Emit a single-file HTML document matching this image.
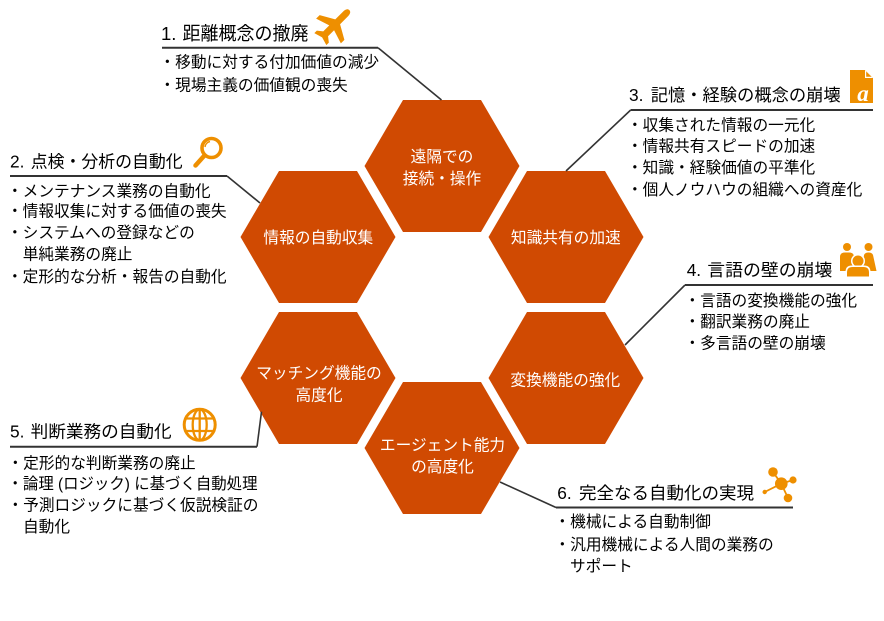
<!DOCTYPE html>
<html>
<head>
<meta charset="utf-8">
<style>
  html,body{margin:0;padding:0;background:#fff;}
  body{width:884px;height:621px;overflow:hidden;}
  svg{display:block;}
  text{font-family:"Liberation Sans","Noto Sans CJK JP",sans-serif;}
  .hex{fill:#D04A02;}
  .ht{fill:#fff;font-size:15.7px;text-anchor:middle;}
  .tt{fill:#000;font-size:17.3px;}
  .bt{fill:#000;font-size:15.7px;}
  .ul{stroke:#333;stroke-width:2;fill:none;}
  .dl{stroke:#333;stroke-width:1.6;fill:none;}
  .ic{fill:#EE8F00;}
</style>
</head>
<body>
<svg width="884" height="621" viewBox="0 0 884 621" xmlns="http://www.w3.org/2000/svg">
  <!-- Hexagons -->
  <polygon class="hex" points="364.5,166 403,100 481,100 519.5,166 481,232 403,232"/>
  <polygon class="hex" points="240.5,237 279,171 357,171 395.5,237 357,303 279,303"/>
  <polygon class="hex" points="488.5,237 527,171 605,171 643.5,237 605,303 527,303"/>
  <polygon class="hex" points="240.5,378 279,312 357,312 395.5,378 357,444 279,444"/>
  <polygon class="hex" points="488.5,378 527,312 605,312 643.5,378 605,444 527,444"/>
  <polygon class="hex" points="364.5,448 403,382 481,382 519.5,448 481,514 403,514"/>

  <!-- Hex labels -->
  <text class="ht" x="442" y="162.2">遠隔での</text>
  <text class="ht" x="442" y="183.8">接続・操作</text>
  <text class="ht" x="318.3" y="243.2">情報の自動収集</text>
  <text class="ht" x="565.8" y="243.2">知識共有の加速</text>
  <text class="ht" x="319" y="378.5">マッチング機能の</text>
  <text class="ht" x="319" y="400.5">高度化</text>
  <text class="ht" x="565.3" y="385.5">変換機能の強化</text>
  <text class="ht" x="442.5" y="450.5">エージェント能力</text>
  <text class="ht" x="442.5" y="472.2">の高度化</text>

  <!-- Connector lines -->
  <line class="ul" x1="162" y1="47.7" x2="378" y2="47.7"/>
  <line class="dl" x1="378" y1="47.7" x2="441.5" y2="100"/>

  <line class="ul" x1="630.7" y1="110" x2="873" y2="110"/>
  <line class="dl" x1="630.7" y1="110" x2="566" y2="171"/>

  <line class="ul" x1="10" y1="176" x2="227" y2="176"/>
  <line class="dl" x1="227" y1="176" x2="260" y2="203"/>

  <line class="ul" x1="685" y1="285" x2="873" y2="285"/>
  <line class="dl" x1="685" y1="285" x2="625" y2="345"/>

  <line class="ul" x1="10" y1="446.7" x2="257" y2="446.7"/>
  <line class="dl" x1="257" y1="446.7" x2="261.5" y2="411.7"/>

  <line class="ul" x1="556" y1="507.5" x2="793" y2="507.5"/>
  <line class="dl" x1="556" y1="507.5" x2="500" y2="482"/>

  <!-- Block 1 -->
  <text class="tt" y="40" style="font-size:18.5px"><tspan x="161">1.</tspan><tspan x="182.5" textLength="126" lengthAdjust="spacingAndGlyphs">距離概念の撤廃</tspan></text>
  <text class="bt" x="159.5" y="67.5">・移動に対する付加価値の減少</text>
  <text class="bt" x="159.5" y="90.5">・現場主義の価値観の喪失</text>
  <!-- airplane icon -->
  <path class="ic" transform="translate(334.5,25) rotate(45)" d="M0,-21 C2.8,-21 3.4,-18 3.4,-15 L3.4,-4.5 L17.5,3.5 L17.5,8.5 L3.4,4 L3.4,12.5 L8.5,16.5 L8.5,20 L0,17.5 L-8.5,20 L-8.5,16.5 L-3.4,12.5 L-3.4,4 L-17.5,8.5 L-17.5,3.5 L-3.4,-4.5 L-3.4,-15 C-3.4,-18 -2.8,-21 0,-21 Z"/>

  <!-- Block 2 -->
  <text class="tt" y="167.7"><tspan x="10">2.</tspan><tspan x="30.7" textLength="152" lengthAdjust="spacingAndGlyphs">点検・分析の自動化</tspan></text>
  <text class="bt" x="7" y="196.5">・メンテナンス業務の自動化</text>
  <text class="bt" x="7" y="216.7">・情報収集に対する価値の喪失</text>
  <text class="bt" x="7" y="238.2">・システムへの登録などの</text>
  <text class="bt" x="22.7" y="259.5">単純業務の廃止</text>
  <text class="bt" x="7" y="282.2">・定形的な分析・報告の自動化</text>
  <!-- magnifier icon -->
  <circle cx="211.5" cy="148" r="9.5" fill="none" stroke="#EE8F00" stroke-width="3.6"/>
  <path d="M205,147 A6.5,6.5 0 0 1 210,141.5" fill="none" stroke="#EE8F00" stroke-width="1.5"/>
  <line x1="204" y1="156" x2="195.5" y2="165.5" stroke="#EE8F00" stroke-width="4.5" stroke-linecap="round"/>

  <!-- Block 3 -->
  <text class="tt" y="101"><tspan x="629">3.</tspan><tspan x="650.7" textLength="190" lengthAdjust="spacingAndGlyphs">記憶・経験の概念の崩壊</tspan></text>
  <text class="bt" x="627" y="130.5">・収集された情報の一元化</text>
  <text class="bt" x="627" y="151.5">・情報共有スピードの加速</text>
  <text class="bt" x="627" y="172.8">・知識・経験価値の平準化</text>
  <text class="bt" x="627" y="194.8">・個人ノウハウの組織への資産化</text>
  <!-- document icon -->
  <path class="ic" d="M850,70 L865,70 L873,78 L873,103 L850,103 Z"/>
  <path d="M865,70 L865,78 L873,78 Z" fill="#fff"/>
  <path d="M866.2,71.5 L866.2,76.8 L871.5,76.8 Z" fill="#EE8F00"/>
  <text x="863" y="101" style="font-family:'Liberation Serif',serif;font-style:italic;font-weight:bold;font-size:23px;fill:#fff;text-anchor:middle;">a</text>

  <!-- Block 4 -->
  <text class="tt" y="276"><tspan x="686.7">4.</tspan><tspan x="707.3" textLength="125" lengthAdjust="spacingAndGlyphs">言語の壁の崩壊</tspan></text>
  <text class="bt" x="684.5" y="306.2">・言語の変換機能の強化</text>
  <text class="bt" x="684.5" y="327.2">・翻訳業務の廃止</text>
  <text class="bt" x="684.5" y="348.5">・多言語の壁の崩壊</text>
  <!-- people icon -->
  <g>
    <circle class="ic" cx="847" cy="247" r="4"/>
    <path class="ic" d="M840,271 L840,257 Q840,252.5 845,252.5 L849,252.5 Q854,252.5 854,257 L854,271 Z"/>
    <circle class="ic" cx="868.5" cy="247" r="4"/>
    <path class="ic" d="M862,271 L864,255 Q865,252.5 868.5,252.5 Q872,252.5 873,255 L876.5,271 Z"/>
    <circle cx="858" cy="261" r="7" fill="#fff"/>
    <circle class="ic" cx="858" cy="261" r="5.5"/>
    <path d="M845.5,277.5 L845.5,272 Q845.5,265.5 852,265.5 L864,265.5 Q870.5,265.5 870.5,272 L870.5,277.5 Z" fill="#fff"/>
    <path class="ic" d="M847,276.5 L847,272.5 Q847,267 852.5,267 L863.5,267 Q869,267 869,272.5 L869,276.5 Z"/>
  </g>

  <!-- Block 5 -->
  <text class="tt" y="437.7"><tspan x="10">5.</tspan><tspan x="30.7" textLength="141" lengthAdjust="spacingAndGlyphs">判断業務の自動化</tspan></text>
  <text class="bt" x="7.5" y="468.5">・定形的な判断業務の廃止</text>
  <text class="bt" x="7.5" y="488.8" textLength="250" lengthAdjust="spacingAndGlyphs">・論理 (ロジック) に基づく自動処理</text>
  <text class="bt" x="7.5" y="510.5">・予測ロジックに基づく仮説検証の</text>
  <text class="bt" x="23" y="532.2">自動化</text>
  <!-- globe icon -->
  <g fill="none" stroke="#EE8F00">
    <circle cx="199.7" cy="424.8" r="15.5" stroke-width="3"/>
    <ellipse cx="199.7" cy="424.8" rx="7" ry="15.5" stroke-width="2.3"/>
    <line x1="199.7" y1="409.3" x2="199.7" y2="440.3" stroke-width="2.3"/>
    <line x1="186" y1="418.5" x2="213.4" y2="418.5" stroke-width="2.3"/>
    <line x1="186" y1="431" x2="213.4" y2="431" stroke-width="2.3"/>
  </g>

  <!-- Block 6 -->
  <text class="tt" y="499"><tspan x="557.3">6.</tspan><tspan x="579" textLength="175" lengthAdjust="spacingAndGlyphs">完全なる自動化の実現</tspan></text>
  <text class="bt" x="554.5" y="527.2">・機械による自動制御</text>
  <text class="bt" x="554.5" y="550">・汎用機械による人間の業務の</text>
  <text class="bt" x="570" y="571.5">サポート</text>
  <!-- molecule icon -->
  <g stroke="#EE8F00" stroke-width="1.8">
    <line x1="781.3" y1="483.7" x2="773" y2="472"/>
    <line x1="781.3" y1="483.7" x2="793" y2="480"/>
    <line x1="781.3" y1="483.7" x2="788" y2="498"/>
    <line x1="781.3" y1="483.7" x2="764.7" y2="492"/>
  </g>
  <circle class="ic" cx="781.3" cy="483.7" r="6.3"/>
  <circle class="ic" cx="773" cy="472" r="4.8"/>
  <circle class="ic" cx="793" cy="480" r="3.6"/>
  <circle class="ic" cx="788" cy="498" r="4.3"/>
  <circle class="ic" cx="764.7" cy="492" r="2.2"/>
</svg>
</body>
</html>
